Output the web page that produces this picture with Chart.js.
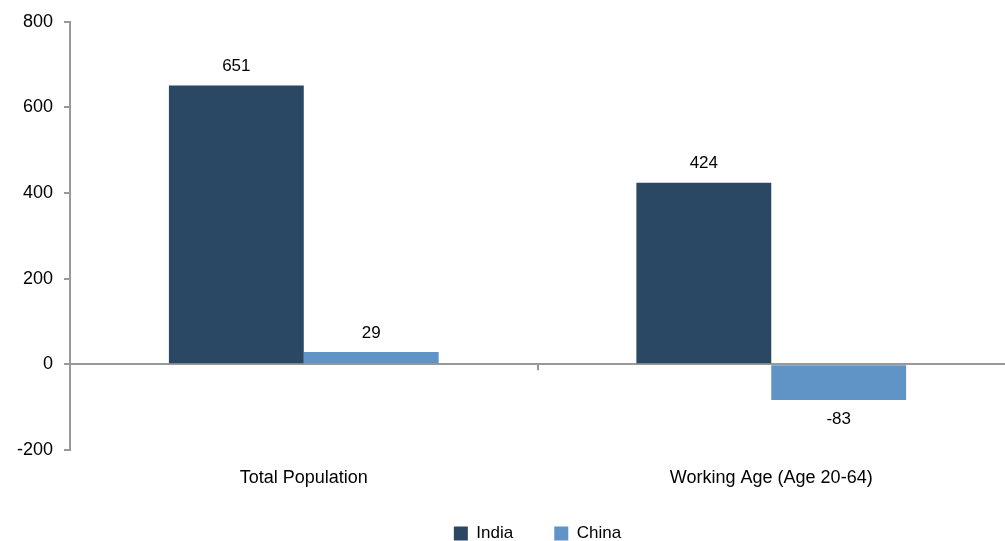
<!DOCTYPE html>
<html>
<head>
<meta charset="utf-8">
<script src="https://cdn.jsdelivr.net/npm/chart.js@4"></script>
<style>
  html, body { margin: 0; padding: 0; background: #fff; }
  #wrap { width: 1005px; height: 541px; }
</style>
</head>
<body>
<div id="wrap"><canvas id="chart"></canvas></div>
<script>
// Population change, millions
const categories = ['Total Population', 'Working Age (Age 20-64)'];
const india = [651, 424];
const china = [29, -83];
const yTicks = [-200, 0, 200, 400, 600, 800];

const AXIS_GREY = '#999999';
const FONT = '"Liberation Sans", Arial, sans-serif';

// value labels above / below each bar
const valueLabels = {
    id: 'valueLabels',
    afterDatasetsDraw(chart) {
        const ctx = chart.ctx;
        ctx.save();
        ctx.font = '17px ' + FONT;
        ctx.fillStyle = '#000';
        ctx.textAlign = 'center';
        ctx.textBaseline = 'middle';
        chart.data.datasets.forEach((ds, i) => {
            chart.getDatasetMeta(i).data.forEach((bar, j) => {
                const v = ds.data[j];
                ctx.fillText(v, bar.x, v >= 0 ? bar.y - 19 : bar.y + 19);
            });
        });
        ctx.restore();
    }
};

// small tick on the zero line between the two groups
const midTick = {
    id: 'midTick',
    afterDatasetsDraw(chart) {
        const xs = chart.scales.x, ys = chart.scales.y;
        const x = Math.round((xs.getPixelForValue(0) + xs.getPixelForValue(1)) / 2);
        const y = ys.getPixelForValue(0);
        const ctx = chart.ctx;
        ctx.save();
        ctx.strokeStyle = AXIS_GREY;
        ctx.lineWidth = 2;
        ctx.beginPath();
        ctx.moveTo(x, y);
        ctx.lineTo(x, y + 6);
        ctx.stroke();
        ctx.restore();
    }
};

new Chart(document.getElementById('chart'), {
    type: 'bar',
    data: {
        labels: categories,
        datasets: [
            { label: 'India', data: india, backgroundColor: '#2A4763' },
            { label: 'China', data: china, backgroundColor: '#6093C6' }
        ]
    },
    options: {
        responsive: true,
        maintainAspectRatio: false,
        animation: false,
        // negative bottom pushes the legend row down to the edge
        layout: { padding: { top: 17, right: 0, left: 6, bottom: -11 } },
        datasets: {
            bar: { categoryPercentage: 0.577, barPercentage: 1.0 }
        },
        plugins: {
            legend: {
                position: 'bottom',
                fullSize: false,
                labels: {
                    color: '#000',
                    boxWidth: 14,
                    boxHeight: 14,
                    padding: 8,
                    font: { size: 17, family: FONT },
                    // widen the gap after "India"
                    generateLabels(chart) {
                        const items = Chart.defaults.plugins.legend.labels.generateLabels(chart);
                        items[0].text = items[0].text + '       ';
                        return items;
                    }
                }
            },
            tooltip: { enabled: false }
        },
        scales: {
            x: {
                grid: { display: false },
                border: { display: false },
                afterFit: (scale) => { scale.height = 67; },
                ticks: {
                    color: '#000',
                    padding: 9,
                    font: { size: 18, family: FONT }
                }
            },
            y: {
                min: -200,
                max: 800,
                afterBuildTicks: (scale) => { scale.ticks = yTicks.map(v => ({ value: v })); },
                grid: {
                    color: (c) => (c.tick && c.tick.value === 0 ? AXIS_GREY : 'transparent'),
                    tickColor: AXIS_GREY,
                    lineWidth: 2,
                    tickLength: 6
                },
                border: { color: AXIS_GREY, width: 2 },
                ticks: {
                    color: '#000',
                    padding: 11,
                    font: { size: 18, family: FONT }
                }
            }
        }
    },
    plugins: [valueLabels, midTick]
});
</script>
</body>
</html>
